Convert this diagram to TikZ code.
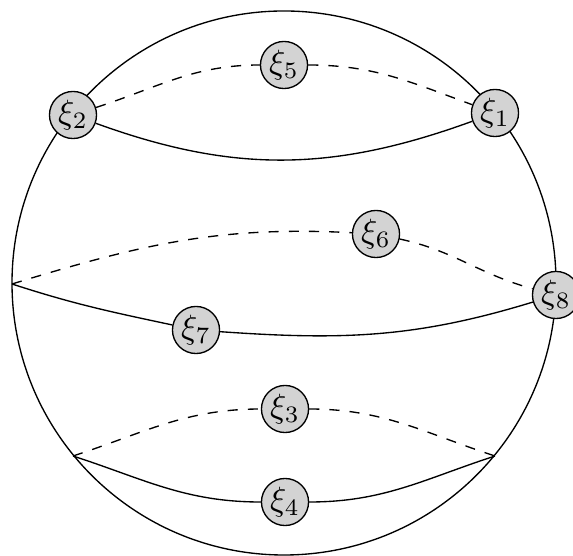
\documentclass[tikz,border=0pt]{standalone}
\definecolor{nodegray}{RGB}{211,211,211}
\begin{document}
\begin{tikzpicture}[x=0.297pt,y=0.297pt,
  xi/.style={circle,draw,fill=nodegray,inner sep=0.5pt,minimum size=13.4pt},
  hidden/.style={dashed}]
\useasboundingbox (0,0) rectangle (573,556);
\draw (284,273) circle[radius=272];
\node[xi] (x5) at (284,491) {$\xi_5$};
\node[xi] (x2) at (73,441) {$\xi_2$};
\node[xi] (x1) at (495,443) {$\xi_1$};
\node[xi] (x6) at (376,322) {$\xi_6$};
\node[xi] (x8) at (556,261) {$\xi_8$};
\node[xi] (x7) at (196,226) {$\xi_7$};
\node[xi] (x3) at (285,147) {$\xi_3$};
\node[xi] (x4) at (285,54) {$\xi_4$};
\coordinate (p) at (12,272);
\coordinate (q) at (73,100);
\coordinate (r) at (495,100);
% top
\draw[hidden] (x2) to[out=18,in=180] (x5);
\draw[hidden] (x5) to[out=0,in=160] (x1);
\draw (x2) to[out=-20,in=-160] (x1);
% middle
\draw[hidden] (p) to[out=17,in=177] (x6);
\draw[hidden] (x6) to[out=-12,in=165] (x8);
\draw (p) to[out=-18,in=168] (x7);
\draw (x7) to[out=-4,in=197] (x8);
% bottom
\draw[hidden] (q) to[out=18,in=180] (x3);
\draw[hidden] (x3) to[out=0,in=162] (r);
\draw (q) to[out=-18,in=180] (x4);
\draw (x4) to[out=0,in=198] (r);
\end{tikzpicture}
\end{document}
